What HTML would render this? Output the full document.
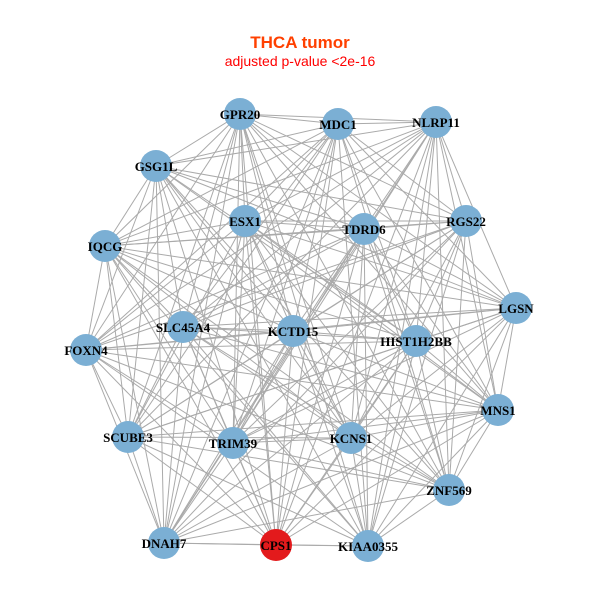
<!DOCTYPE html>
<html><head><meta charset="utf-8"><style>
html,body{margin:0;padding:0;background:#fff;width:600px;height:600px;overflow:hidden}
</style></head><body>
<svg id="s" width="600" height="600" xmlns="http://www.w3.org/2000/svg">
<rect width="600" height="600" fill="#fff"/>
<text x="300" y="48" text-anchor="middle" font-family="Liberation Sans, sans-serif" font-weight="bold" font-size="17" fill="#ff4000">THCA tumor</text>
<text x="300" y="66" text-anchor="middle" font-family="Liberation Sans, sans-serif" font-size="14" fill="#ff0000">adjusted p-value &lt;2e-16</text>
<g id="e" stroke="#aaaaaa" stroke-width="1"></g>
<g id="n"></g>
</svg>
<script>
var N=[["GPR20",240,114],["MDC1",338,124],["NLRP11",436,122],["GSG1L",156,166],["ESX1",245,221],["TDRD6",364,229],["RGS22",466,221],["IQCG",105,246],["LGSN",516,308],["SLC45A4",183,327],["KCTD15",293,331],["HIST1H2BB",416,341],["FOXN4",86,350],["MNS1",498,410],["SCUBE3",128,437],["TRIM39",233,443],["KCNS1",351,438],["ZNF569",449,490],["DNAH7",164,543],["CPS1",276,545],["KIAA0355",368,546]];
var ns="http://www.w3.org/2000/svg",e=document.getElementById("e"),g=document.getElementById("n");
for(var i=0;i<N.length;i++)for(var j=i+1;j<N.length;j++){
 if((i*7+j*3)%11==0)continue;
 var l=document.createElementNS(ns,"line");
 l.setAttribute("x1",N[i][1]);l.setAttribute("y1",N[i][2]);l.setAttribute("x2",N[j][1]);l.setAttribute("y2",N[j][2]);e.appendChild(l);}
N.forEach(function(d){
 var c=document.createElementNS(ns,"circle");c.setAttribute("cx",d[1]);c.setAttribute("cy",d[2]);c.setAttribute("r",16);
 c.setAttribute("fill",d[0]=="CPS1"?"#e31a1c":"#7bafd4");g.appendChild(c);});
N.forEach(function(d){
 var t=document.createElementNS(ns,"text");t.setAttribute("x",d[1]);t.setAttribute("y",d[2]+5);
 t.setAttribute("text-anchor","middle");t.setAttribute("font-family","Liberation Serif, serif");
 t.setAttribute("font-weight","bold");t.setAttribute("font-size","13");t.textContent=d[0];g.appendChild(t);});
</script>
</body></html>
